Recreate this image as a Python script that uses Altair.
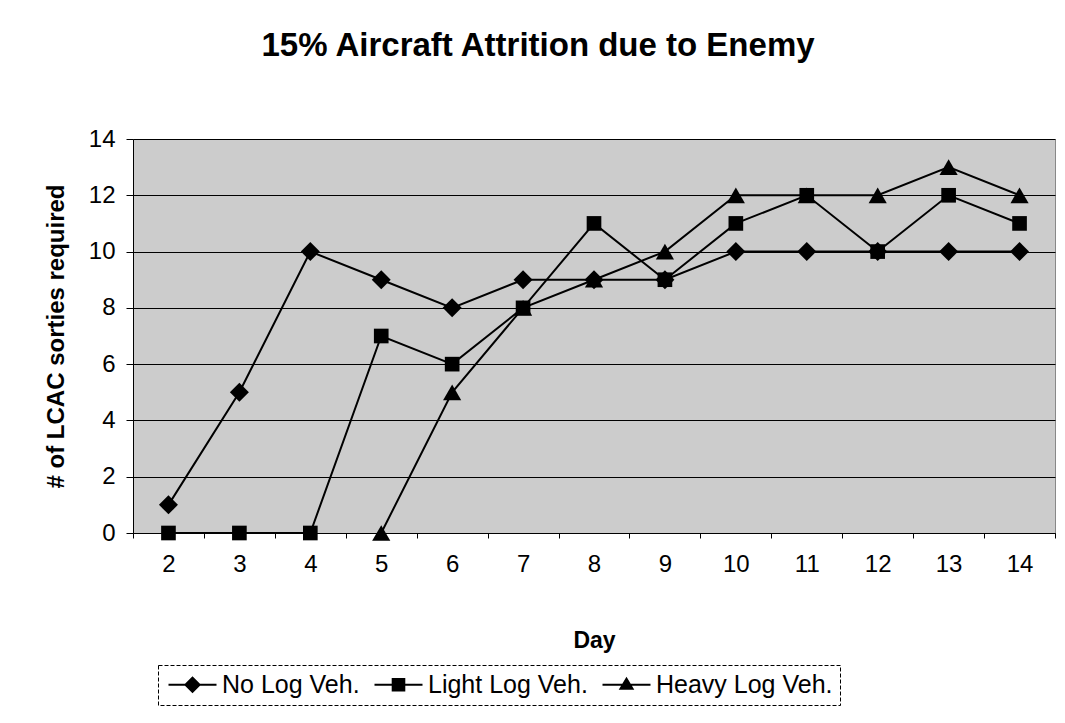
import altair as alt
import pandas as pd

# ---- data ----
days = [2, 3, 4, 5, 6, 7, 8, 9, 10, 11, 12, 13, 14]
no_log = [1, 5, 10, 9, 8, 9, 9, 9, 10, 10, 10, 10, 10]
light_log = [0, 0, 0, 7, 6, 8, 11, 9, 11, 12, 10, 12, 11]
heavy_days = [5, 6, 7, 8, 9, 10, 11, 12, 13, 14]
heavy_log = [0, 5, 8, 9, 10, 12, 12, 12, 13, 12]
series_names = ["No Log Veh.", "Light Log Veh.", "Heavy Log Veh."]
y_ticks = [0, 2, 4, 6, 8, 10, 12, 14]
x_boundaries = [1.5, 2.5, 3.5, 4.5, 5.5, 6.5, 7.5, 8.5, 9.5, 10.5, 11.5, 12.5, 13.5, 14.5]

rows = []
for d, v in zip(days, no_log):
    rows.append({"day": d, "value": v, "series": series_names[0]})
for d, v in zip(days, light_log):
    rows.append({"day": d, "value": v, "series": series_names[1]})
for d, v in zip(heavy_days, heavy_log):
    rows.append({"day": d, "value": v, "series": series_names[2]})
df = pd.DataFrame(rows)

FONT = "Liberation Sans"
PLOT_W = 922
PLOT_H = 394

x_scale = alt.Scale(domain=[1.5, 14.5], nice=False, zero=False)

x = alt.X(
    "day:Q",
    scale=x_scale,
    axis=alt.Axis(
        orient="bottom",
        values=days, title="Day", grid=False, format="d", ticks=False,
        labelFontSize=24, labelFontWeight="normal", labelColor="black",
        labelFont=FONT, labelPadding=19,
        domainColor="black", domainWidth=1,
        titleFontSize=23, titleFont=FONT, titleFontWeight="bold", titleColor="black",
        titlePadding=53,
    ),
)
x_plain = alt.X("day:Q", scale=x_scale, axis=None)
x_ticks_only = alt.X(
    "day:Q",
    scale=x_scale,
    axis=alt.Axis(
        orient="bottom",
        values=x_boundaries, title=None, grid=False, labels=False, domain=False,
        ticks=True, tickSize=5, tickColor="black", tickWidth=1,
    ),
)
y = alt.Y(
    "value:Q",
    scale=alt.Scale(domain=[0, 14], nice=False),
    axis=alt.Axis(
        values=y_ticks, title="# of LCAC sorties required", grid=True,
        gridColor="black", gridWidth=1, gridOpacity=1,
        labelFontSize=24, labelFontWeight="normal", labelColor="black",
        labelFont=FONT, labelPadding=11,
        tickSize=7, tickColor="black",
        domainColor="black", domainWidth=1,
        titleFontSize=24, titleFont=FONT, titleFontWeight="bold", titleColor="black",
        titlePadding=20,
    ),
)

# legend symbols: a horizontal line through the marker (unit = 10 px)
legend_paths = [
    "M-2.4,-0.1H2.4V0.1H-2.4ZM-0.85,0L0,-0.85L0.85,0L0,0.85Z",
    "M-2.4,-0.1H2.4V0.1H-2.4ZM-0.68,-0.68H0.68V0.68H-0.68Z",
    "M-2.4,-0.1H2.4V0.1H-2.4ZM0,-0.8L0.78,0.5L-0.78,0.5Z",
]
marker_shapes = ["diamond", "square", "triangle-up"]
marker_sizes = [360, 215, 330]

lines = alt.Chart(df).mark_line(color="black", strokeWidth=2).encode(
    x=x, y=y, detail="series:N"
)

tick_layer = alt.Chart(df).mark_line(opacity=0).encode(
    x=x_ticks_only, y=y, detail="series:N"
)

point_layers = []
for name, shp, sz in zip(series_names, marker_shapes, marker_sizes):
    point_layers.append(
        alt.Chart(df)
        .transform_filter(alt.datum.series == name)
        .mark_point(filled=True, color="black", opacity=1, shape=shp, size=sz)
        .encode(x=x_plain, y=y)
    )

legend_layer = alt.Chart(df).mark_point(filled=True, color="black", opacity=0).encode(
    x=x_plain,
    y=y,
    shape=alt.Shape(
        "series:N",
        scale=alt.Scale(domain=series_names, range=legend_paths),
        legend=alt.Legend(
            title=None, orient="none", legendX=25, legendY=526,
            direction="horizontal", symbolSize=400, symbolOpacity=1,
            symbolOffset=15,
            symbolFillColor="black", symbolStrokeColor="black", symbolStrokeWidth=0,
            labelFontSize=25, labelFont=FONT, labelColor="black", labelOffset=17,
            labelLimit=400, columnPadding=11, padding=7,
        ),
    ),
)

chart = (
    alt.layer(lines, *point_layers, legend_layer, tick_layer)
    .resolve_axis(x="independent")
    .properties(
        width=PLOT_W,
        height=PLOT_H,
        title=alt.TitleParams(
            "15% Aircraft Attrition due to Enemy",
            fontSize=33, font=FONT, fontWeight="bold", color="black",
            anchor="middle", offset=64, dx=-56,
        ),
        autosize=alt.AutoSizeParams(type="none"),
        padding={"left": 125, "top": 131, "right": 2, "bottom": 182},
        background="white",
    )
    .configure_view(fill="#cccccc", stroke="#888888", strokeWidth=1)
    .configure_legend(strokeColor="black", strokeWidth=1, strokeDash=[4, 2])
)

chart.save("out.html", embed_options={"renderer": "svg", "actions": False})
